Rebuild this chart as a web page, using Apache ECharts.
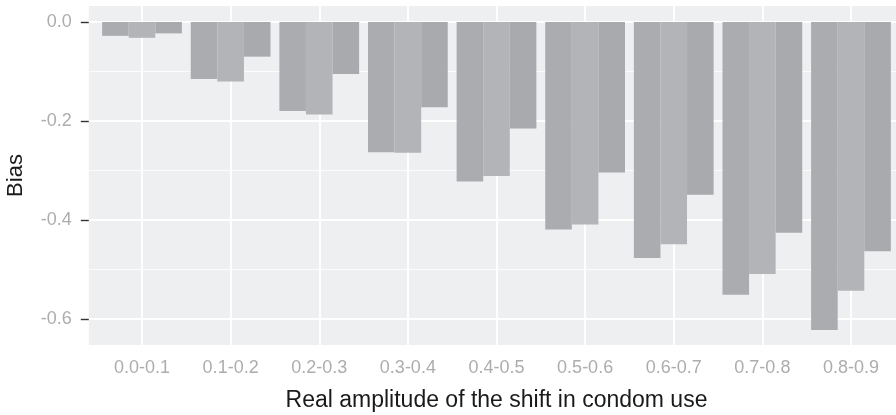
<!DOCTYPE html>
<html><head><meta charset="utf-8">
<script src="https://cdn.jsdelivr.net/npm/echarts@6/dist/echarts.min.js"></script>
<style>html,body{margin:0;padding:0;background:#fff}#c{width:896px;height:415px}</style>
</head><body><div id="c"></div>
<script>
const categories = ['0.0-0.1','0.1-0.2','0.2-0.3','0.3-0.4','0.4-0.5','0.5-0.6','0.6-0.7','0.7-0.8','0.8-0.9'];
const seriesA = [-0.028, -0.115, -0.180, -0.263, -0.322, -0.419, -0.477, -0.551, -0.622];
const seriesB = [-0.032, -0.120, -0.187, -0.264, -0.311, -0.409, -0.449, -0.509, -0.543];
const seriesC = [-0.023, -0.070, -0.105, -0.172, -0.215, -0.304, -0.349, -0.426, -0.463];
const yTickMin = -0.6, yTickMax = 0, yTickStep = 0.2;
const yPanelMin = -0.6525, yPanelMax = 0.0323;
const xTitle = 'Real amplitude of the shift in condom use';
const yTitle = 'Bias';

const FONT = '"Liberation Sans", Arial, Helvetica, sans-serif';
const labelColor = '#ADADAD';
const tickStyle = {color: '#333', width: 1.4};
const chart = echarts.init(document.getElementById('c'), null, {renderer: 'canvas'});
chart.setOption({
  animation: false,
  backgroundColor: '#fff',
  grid: [
    {left: 88.8, right: -8.2, top: 6, bottom: 70, show: true, backgroundColor: '#EEEFF1', borderWidth: 0, containLabel: false, outerBoundsMode: 'none'},
    {left: 88.8, right: -8.2, top: 22, bottom: 96, containLabel: false, outerBoundsMode: 'none'},
    {left: 97.7, right: 0.7, top: 6, bottom: 70, containLabel: false, outerBoundsMode: 'none'}
  ],
  xAxis: [
    {gridIndex: 0, type: 'category', data: categories, axisLine: {show: false}, axisTick: {show: false},
     axisLabel: {show: false}, splitLine: {show: false},
     name: xTitle, nameLocation: 'middle', nameGap: 44,
     nameTextStyle: {fontSize: 23, color: '#1a1a1a', fontFamily: FONT}},
    {gridIndex: 1, type: 'value', show: false},
    {gridIndex: 2, type: 'category', data: categories, axisLine: {show: false},
     axisTick: {show: true, alignWithLabel: true, interval: 0, length: 8, lineStyle: tickStyle},
     axisLabel: {interval: 0, color: labelColor, fontSize: 18, margin: 14, fontFamily: FONT},
     splitLine: {show: true, alignWithLabel: true, interval: 0, lineStyle: {color: '#fff', width: 1.8}}}
  ],
  yAxis: [
    {gridIndex: 0, type: 'value', show: false, min: yPanelMin, max: yPanelMax},
    {gridIndex: 1, type: 'value', min: yTickMin, max: yTickMax, interval: yTickStep,
     axisLine: {show: false}, axisTick: {show: true, length: 8, lineStyle: tickStyle},
     axisLabel: {formatter: v => v.toFixed(1), margin: 17, fontSize: 18, color: labelColor, fontFamily: FONT},
     splitLine: {show: true, lineStyle: {color: '#fff', width: 1.8}},
     minorTick: {show: false, splitNumber: 2},
     minorSplitLine: {show: true, lineStyle: {color: '#fff', width: 0.8}}},
    {gridIndex: 2, type: 'value', min: yPanelMin, max: yPanelMax,
     axisLine: {show: false}, axisTick: {show: false}, axisLabel: {show: false}, splitLine: {show: false},
     name: yTitle, nameLocation: 'middle', nameGap: 71,
     nameTextStyle: {fontSize: 22, color: '#1a1a1a', fontFamily: FONT}}
  ],
  series: [
    {type: 'bar', xAxisIndex: 2, yAxisIndex: 2, data: seriesA, barGap: 0, barCategoryGap: '10%', itemStyle: {color: '#ABACB0'}},
    {type: 'bar', xAxisIndex: 2, yAxisIndex: 2, data: seriesB, barGap: 0, barCategoryGap: '10%', itemStyle: {color: '#B3B4B8'}},
    {type: 'bar', xAxisIndex: 2, yAxisIndex: 2, data: seriesC, barGap: 0, barCategoryGap: '10%', itemStyle: {color: '#A9AAAE'}}
  ]
});
</script></body></html>
